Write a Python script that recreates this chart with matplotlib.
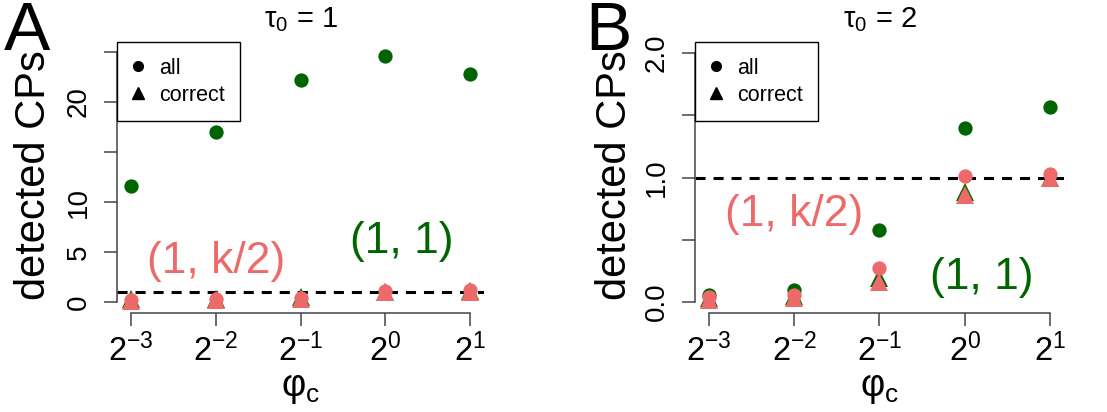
import numpy as np
import matplotlib
matplotlib.use('Agg')
from matplotlib import pyplot as plt
from matplotlib.lines import Line2D

plt.rcParams['font.family'] = ['Liberation Sans', 'DejaVu Sans']
plt.rcParams['mathtext.fontset'] = 'custom'
plt.rcParams['mathtext.rm'] = 'Liberation Sans'
plt.rcParams['mathtext.it'] = 'Liberation Sans'
plt.rcParams['mathtext.default'] = 'regular'

# data
phi_exp = [-3, -2, -1, 0, 1]
phi = [2.0 ** e for e in phi_exp]
phi_labels = [r'$2^{%d}$' % e for e in phi_exp]

# panel A, tau0 = 1
a_all_11 = [11.6, 17.0, 22.2, 24.6, 22.8]
a_cor_11 = [0.35, 0.35, 0.5, 1.0, 1.1]
a_all_k2 = [0.2, 0.3, 0.4, 1.15, 1.2]
a_cor_k2 = [0.15, 0.2, 0.35, 1.0, 1.05]

# panel B, tau0 = 2
b_all_11 = [0.06, 0.10, 0.58, 1.40, 1.57]
b_cor_11 = [0.03, 0.05, 0.19, 0.88, 1.0]
b_all_k2 = [0.04, 0.06, 0.27, 1.01, 1.03]
b_cor_k2 = [0.02, 0.03, 0.16, 0.86, 1.0]

GREEN = '#006400'
RED = '#EE6A6A'
W, H = 1107, 412


def px(x, y):
    return x / W, 1 - y / H


fig = plt.figure(figsize=(W / 100, H / 100), dpi=100)


def panel(left, width, ylim, yticks, ylabels, ybounds,
          all11, cor11, allk2, cork2, title, letter, letter_x,
          k2_pos, p11_pos):
    ax = fig.add_axes([left / W, (H - 313) / H, width / W, 271 / H])
    ax.set_xscale('log', base=2)
    ax.set_xlim(2 ** -3.16, 2 ** 1.16)
    ax.set_ylim(*ylim)
    ax.minorticks_off()

    ax.axhline(1, color='black', ls=(0, (3.3, 2.6)), lw=2.2, zorder=1)
    ax.plot(phi, all11, 'o', color=GREEN, ms=10.3, mew=0, zorder=2, clip_on=False)
    ax.plot(phi, cor11, '^', color=GREEN, ms=13.5, mew=0, zorder=3, clip_on=False)
    ax.plot(phi, allk2, 'o', color=RED, ms=10.3, mew=0, zorder=4, clip_on=False)
    ax.plot(phi, cork2, '^', color=RED, ms=13.5, mew=0, zorder=5, clip_on=False)

    for s in ['top', 'right']:
        ax.spines[s].set_visible(False)
    ax.spines['left'].set_bounds(*ybounds)
    ax.spines['bottom'].set_bounds(phi[0], phi[-1])
    for s in ['left', 'bottom']:
        ax.spines[s].set_color('#444444')
        ax.spines[s].set_linewidth(1.1)

    ax.set_xticks(phi)
    ax.set_xticklabels(phi_labels, fontsize=23.5)
    ax.set_yticks(yticks)
    ax.set_yticklabels(ylabels, fontsize=20, rotation=90, va='center')
    ax.tick_params(axis='both', direction='out', length=9.5, width=1.1,
                   color='#444444')
    ax.tick_params(axis='x', pad=5)
    ax.tick_params(axis='y', pad=9)

    leg = ax.legend([Line2D([], [], ls='', marker='o', color='black', ms=7),
                     Line2D([], [], ls='', marker='^', color='black', ms=9)],
                    ['all', 'correct'], loc='upper left', bbox_to_anchor=(0, 1.0),
                    borderaxespad=0, fontsize=15.5, fancybox=False, framealpha=1,
                    edgecolor='black', borderpad=0.72, labelspacing=0.3,
                    handlelength=0.5, handletextpad=0.7)
    leg.get_frame().set_linewidth(1.0)

    ax.text(2 ** k2_pos[0], k2_pos[1], '(1, k/2)', color=RED, fontsize=32,
            ha='center', va='center')
    ax.text(2 ** p11_pos[0], p11_pos[1], '(1, 1)', color=GREEN, fontsize=32,
            ha='center', va='center')

    cx = left + width / 2
    fig.text(*px(cx, 20), title, fontsize=21, ha='center', va='center')
    fig.text(*px(cx, 388), r'$\varphi_c$', fontsize=27, ha='center', va='center')
    fig.text(*px(letter_x, 0), letter, fontsize=50, ha='left', va='top')
    fig.text(*px(letter_x + 30, 175), 'detected CPs', fontsize=30, rotation=90,
             ha='center', va='center')
    return ax


panel(117.4, 366.2, (-1.1, 26.0), [0, 5, 10, 15, 20, 25],
      ['0', '5', '10', '', '20', ''], (0, 25),
      a_all_11, a_cor_11, a_all_k2, a_cor_k2,
      r'$\tau_0$ = 1', 'A', 4, (-2.0, 4.0), (0.2, 6.1))

panel(695.4, 368.2, (-0.088, 2.088), [0, 0.5, 1.0, 1.5, 2.0],
      ['0.0', '', '1.0', '', '2.0'], (0, 2),
      b_all_11, b_cor_11, b_all_k2, b_cor_k2,
      r'$\tau_0$ = 2', 'B', 585, (-2.0, 0.70), (0.2, 0.2))

fig.savefig('out.png', dpi=100)
